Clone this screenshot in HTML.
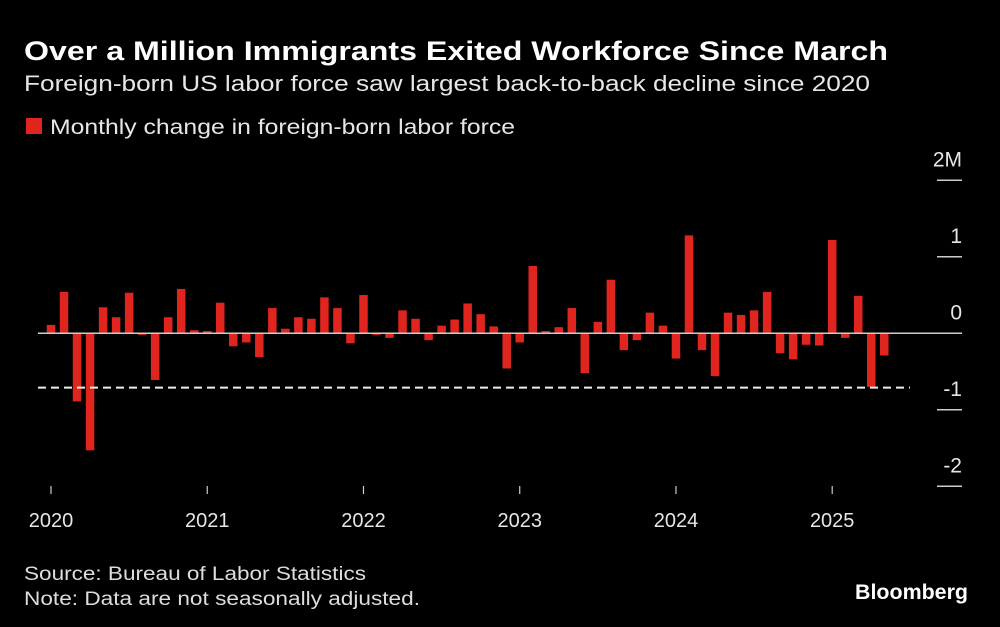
<!DOCTYPE html>
<html><head><meta charset="utf-8"><style>
html,body{margin:0;padding:0;background:#000;}
svg{display:block;font-family:"Liberation Sans","DejaVu Sans",sans-serif;}
</style></head><body>
<svg id="chart" width="1000" height="627" viewBox="0 0 1000 627">
<rect width="1000" height="627" fill="#000"/>
<text x="24" y="60" fill="#fff" font-size="27" font-weight="bold" textLength="864" lengthAdjust="spacingAndGlyphs">Over a Million Immigrants Exited Workforce Since March</text>
<text x="24" y="91" fill="#e6e6e6" font-size="22" textLength="846" lengthAdjust="spacingAndGlyphs">Foreign-born US labor force saw largest back-to-back decline since 2020</text>
<g>
<rect x="26" y="118" width="16" height="16" fill="#e0251f"/>
<text x="50" y="134" fill="#e6e6e6" font-size="21" textLength="465" lengthAdjust="spacingAndGlyphs">Monthly change in foreign-born labor force</text>
</g>
<g id="axes"></g>
<g id="bars"></g>
<text x="24" y="580" fill="#ddd" font-size="19" textLength="342" lengthAdjust="spacingAndGlyphs">Source: Bureau of Labor Statistics</text>
<text x="24" y="605" fill="#ddd" font-size="19" textLength="396" lengthAdjust="spacingAndGlyphs">Note: Data are not seasonally adjusted.</text>
<text x="855" y="599" fill="#fff" font-size="21" font-weight="bold" textLength="113" lengthAdjust="spacingAndGlyphs">Bloomberg</text>
</svg>
<script>
const values = [0.11,0.54,-0.89,-1.53,0.34,0.21,0.53,-0.02,-0.61,0.21,0.58,0.04,
0.03,0.40,-0.17,-0.12,-0.31,0.33,0.06,0.21,0.19,0.47,0.33,-0.13,
0.50,-0.02,-0.06,0.30,0.19,-0.09,0.10,0.18,0.39,0.25,0.09,-0.46,
-0.12,0.88,0.03,0.08,0.33,-0.52,0.15,0.70,-0.22,-0.09,0.27,0.10,
-0.33,1.28,-0.22,-0.56,0.27,0.24,0.30,0.54,-0.26,-0.34,-0.15,-0.16,
1.22,-0.06,0.49,-0.70,-0.29];
const yTicks = [2,1,0,-1,-2];
const yTickLabels = ["2M","1","0","-1","-2"];
const xYears = [2020,2021,2022,2023,2024,2025];
const refLine = -0.71;

const NS="http://www.w3.org/2000/svg";
const zeroY=333.3, pxPerM=76.5, x0=51, pxPerMonth=13.02, barW=8.5;
function y(v){return zeroY - v*pxPerM;}
function x(i){return x0 + i*pxPerMonth;}
function mk(tag,attrs,parent){const e=document.createElementNS(NS,tag);for(const k in attrs)e.setAttribute(k,attrs[k]);parent.appendChild(e);return e;}
const axes=document.getElementById('axes'), bars=document.getElementById('bars');

yTicks.forEach((t,i)=>{
  const l=mk('line',{x1:937,x2:962,y1:y(t),y2:y(t),stroke:'#ccc','stroke-width':1.5},axes);
  
  
  const tx=mk('text',{x:962,y:y(t)-14,fill:'#e6e6e6','font-size':21,'text-anchor':'end'},axes);
  tx.textContent=yTickLabels[i];
  
  
});
xYears.forEach((yr,i)=>{
  const xx=x(i*12);
  const l=mk('line',{x1:xx,x2:xx,y1:486,y2:494,stroke:'#ccc','stroke-width':1.2},axes);
  
  
  const tx=mk('text',{x:xx,y:527,fill:'#e6e6e6','font-size':20,'text-anchor':'middle'},axes);
  tx.textContent=String(yr);
  
  
});
values.forEach((v,i)=>{
  const r=mk('rect',{x:x(i)-barW/2,y:Math.min(y(v),zeroY),width:barW,height:Math.abs(y(v)-zeroY),fill:'#e0251f'},bars);
  
  
});
const z=mk('line',{x1:38,x2:962,y1:zeroY,y2:zeroY,stroke:'#ccc','stroke-width':1.5},bars);


const d=mk('line',{x1:38,x2:910,y1:y(refLine),y2:y(refLine),stroke:'#eee','stroke-width':2,'stroke-dasharray':'8,5'},bars);


</script>
</body></html>
